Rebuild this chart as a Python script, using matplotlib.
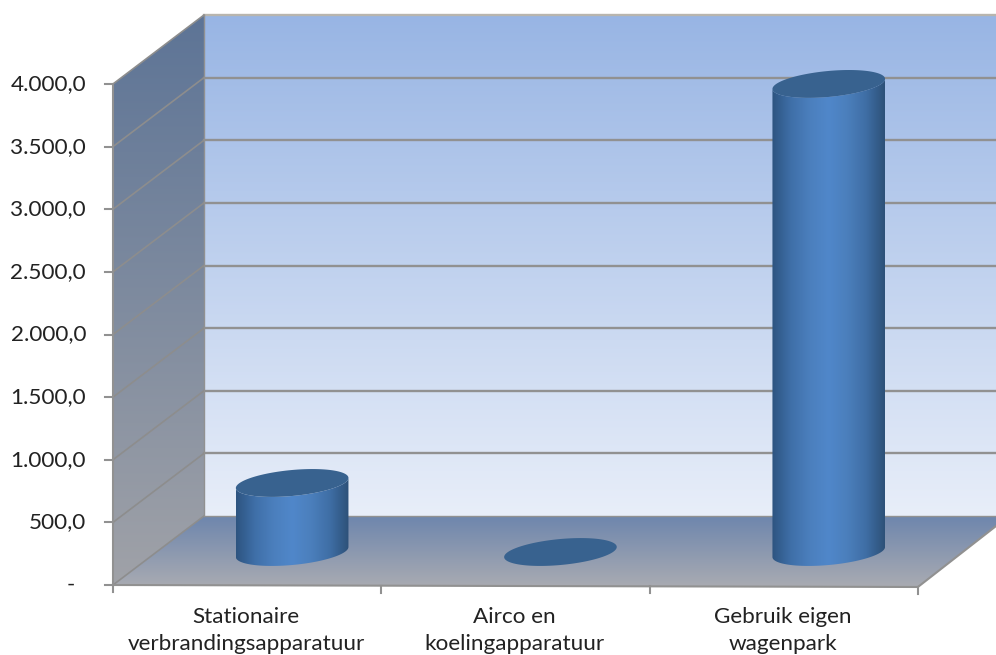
import numpy as np
import matplotlib
matplotlib.use("Agg")
import matplotlib.pyplot as plt
from matplotlib.colors import LinearSegmentedColormap
from matplotlib.patches import Polygon

categories = ["Stationaire\nverbrandingsapparatuur", "Airco en\nkoelingapparatuur", "Gebruik eigen\nwagenpark"]
values = [551, 0, 3737]
y_ticks = [0, 500, 1000, 1500, 2000, 2500, 3000, 3500, 4000]

W, H = 996, 655
X0, Y0 = 113.0, 585.0      # pixel position of the origin
PX_CAT = 268.3             # pixels per category
PX_VAL = 501.0 / 4000.0    # pixels per value unit
DX, DY = 91.0, 69.0        # depth shift, pixels
BAR_DX, BAR_DY = 45.0, 33.0
A, B, S = 56.3, 13.0, 5.0 / 56.0

plt.rcParams['font.family'] = ['Lato', 'DejaVu Sans']
fig = plt.figure(figsize=(W / 100, H / 100), dpi=100)
ax = fig.add_axes([0, 0, 1, 1])
ax.set_xlim(-X0 / PX_CAT, (W - X0) / PX_CAT)
ax.set_ylim(-(H - Y0) / PX_VAL, Y0 / PX_VAL)
ax.axis("off")

ddx, ddy = DX / PX_CAT, DY / PX_VAL
n = len(categories)
vmax = y_ticks[-1]
GRID = "#919191"


def grad(poly, colors, horizontal=False, z=1, extent=None):
    poly = np.asarray(poly)
    cmap = LinearSegmentedColormap.from_list("g", colors)
    data = np.linspace(0, 1, 256)
    data = data[None, :] if horizontal else data[:, None]
    if extent is None:
        extent = (poly[:, 0].min(), poly[:, 0].max(), poly[:, 1].min(), poly[:, 1].max())
    im = ax.imshow(data, cmap=cmap, origin="lower", aspect="auto", extent=extent, zorder=z,
                   interpolation="bilinear")
    patch = Polygon(poly, closed=True, transform=ax.transData, fc="none", ec="none")
    ax.add_patch(patch)
    im.set_clip_path(patch)


# back wall
xr = n + ddx
grad([(ddx, ddy), (xr, ddy), (xr, vmax + ddy), (ddx, vmax + ddy)], ["#e8eef9", "#98b5e4"], z=1)
# left wall
grad([(0, 0), (ddx, ddy), (ddx, vmax + ddy), (0, vmax)], ["#a0a2a8", "#5d7496"], z=1)
# floor
sl = -2.0 / PX_VAL
grad([(0, 0), (n, sl), (xr, ddy), (ddx, ddy)], ["#a9abb2", "#6e86ad"], z=1)

# grid
for t in y_ticks:
    if t > 0:
        ax.plot([ddx, xr], [t + ddy, t + ddy], color="#b8b5ae" if t == vmax else GRID, lw=1.7, zorder=2)
    ax.plot([0, ddx], [t, t + ddy], color="#8d8d8d", lw=1.2, zorder=2)
    ax.plot([-8 / PX_CAT, 0], [t, t], color=GRID, lw=1.5, zorder=2)
    lab = "-" if t == 0 else f"{t:,.1f}".replace(",", "X").replace(".", ",").replace("X", ".")
    xt = -38 / PX_CAT if t == 0 else -27 / PX_CAT
    ax.text(xt, t, lab, ha="right", va="center", fontsize=16.2, color="#222222", zorder=5)

ax.plot([0, 0], [0, vmax], color=GRID, lw=1.5, zorder=2)
ax.plot([ddx, ddx], [ddy, vmax + ddy], color=GRID, lw=1.0, zorder=2)
ax.plot([ddx, xr], [ddy, ddy], color=GRID, lw=1.0, zorder=2)
ax.plot([0, n], [0, sl], color=GRID, lw=1.5, zorder=2)
ax.plot([n, xr], [sl, ddy], color=GRID, lw=1.5, zorder=2)
for i in range(n + 1):
    yb = sl * i / n
    ax.plot([i, i], [yb, yb - 7 / PX_VAL], color=GRID, lw=1.5, zorder=2)

# cylinders
t = np.linspace(0, 2 * np.pi, 241)
for i, v in enumerate(values):
    cx = i + 0.5 + BAR_DX / PX_CAT
    base = BAR_DY / PX_VAL
    top = base + v
    ex = A / PX_CAT * np.cos(t)
    ey = (S * A * np.cos(t) + B * np.sin(t)) / PX_VAL
    if v > 0:
        tt = np.linspace(np.pi, 2 * np.pi, 121)
        lx = A / PX_CAT * np.cos(tt)
        ly = (S * A * np.cos(tt) + B * np.sin(tt)) / PX_VAL
        body = np.vstack([
            np.column_stack([cx + lx, base + ly]),
            np.column_stack([cx + lx[::-1], top + ly[::-1]]),
        ])
        ext = (cx - A / PX_CAT, cx + A / PX_CAT, body[:, 1].min(), body[:, 1].max())
        grad(body, ["#2d5480", "#3f6fa8", "#4b7fbd", "#5087ca", "#4b7fbc", "#3f6ea5", "#2d5178"], horizontal=True, z=3, extent=ext)
    ax.add_patch(Polygon(np.column_stack([cx + ex, top + ey]), closed=True, fc="#38628f", ec="none", zorder=4))

# category labels
for i, c in enumerate(categories):
    ax.text(i + 0.5 - 1 / PX_CAT, -22 / PX_VAL, c, ha="center", va="top", fontsize=16.2, color="#222222",
            linespacing=1.45, zorder=5)

fig.savefig("out.png", dpi=100)
